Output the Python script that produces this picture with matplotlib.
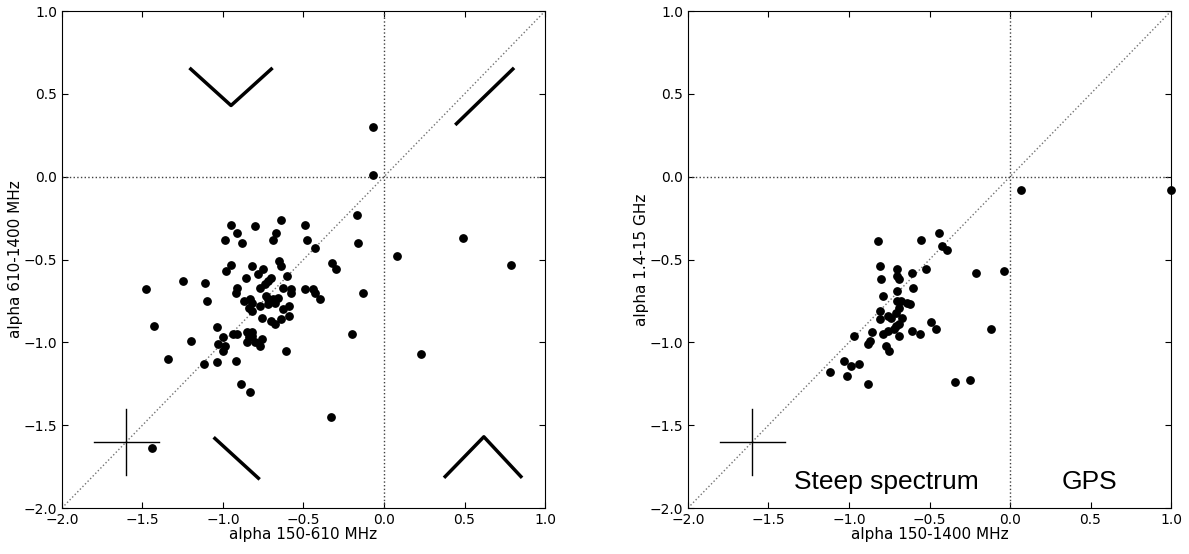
import matplotlib
matplotlib.use("Agg")
import matplotlib.pyplot as plt

# spectral indices, left panel: alpha 150-610 MHz vs alpha 610-1400 MHz
a150_610 = [-1.48, -1.43, -1.34, -1.25, -1.20, -1.11, -1.10, -1.12, -1.04, -1.00,
            -1.03, -0.99, -1.00, -1.04, -0.92, -0.89, -0.83, -0.95, -0.91, -0.99,
            -0.88, -0.80, -0.64, -0.49, -0.67, -0.69, -0.48, -0.43, -0.17, -0.16,
            -0.95, -0.98, -0.82, -0.75, -0.65, -0.64, -0.78, -0.86, -0.70, -0.72,
            -0.60, -0.74, -0.91, -0.92, -0.77, -0.63, -0.58, -0.58, -0.49, -0.44,
            -0.43, -0.40, -0.32, -0.30, -0.87, -0.83, -0.82, -0.84, -0.82, -0.77,
            -0.73, -0.72, -0.71, -0.69, -0.66, -0.72, -0.68, -0.59, -0.63, -0.76,
            -0.70, -0.68, -0.64, -0.59, -0.94, -0.91, -0.85, -0.82, -0.84, -0.82,
            -0.85, -0.80, -0.77, -0.76, -0.61, -0.20, -0.33, -0.13, -0.07, -0.07,
            0.08, 0.49, 0.79, 0.23, -1.44]
a610_1400 = [-0.68, -0.90, -1.10, -0.63, -0.99, -0.64, -0.75, -1.13, -0.91, -0.97,
             -1.01, -1.02, -1.05, -1.12, -1.11, -1.25, -1.30, -0.29, -0.34, -0.38,
             -0.40, -0.30, -0.26, -0.29, -0.34, -0.38, -0.38, -0.43, -0.23, -0.40,
             -0.53, -0.57, -0.54, -0.56, -0.51, -0.54, -0.59, -0.61, -0.61, -0.63,
             -0.60, -0.65, -0.67, -0.70, -0.67, -0.67, -0.68, -0.70, -0.68, -0.68,
             -0.70, -0.74, -0.52, -0.56, -0.75, -0.74, -0.76, -0.79, -0.81, -0.78,
             -0.72, -0.74, -0.75, -0.74, -0.73, -0.77, -0.76, -0.78, -0.80, -0.85,
             -0.87, -0.89, -0.86, -0.84, -0.95, -0.95, -0.94, -0.94, -0.97, -0.96,
             -1.00, -1.00, -1.02, -0.98, -1.05, -0.95, -1.45, -0.70, 0.01, 0.30,
             -0.48, -0.37, -0.53, -1.07, -1.64]

# right panel: alpha 150-1400 MHz vs alpha 1.4-15 GHz
a150_1400 = [-0.82, -0.55, -0.44, -0.42, -0.39, -0.81, -0.70, -0.70, -0.69, -0.61,
             -0.52, -0.80, -0.21, -0.04, -0.60, -0.70, -0.79, -0.70, -0.68, -0.64,
             -0.62, -0.69, -0.71, -0.81, -0.76, -0.74, -0.67, -0.81, -0.69, -0.71,
             -0.72, -0.76, -0.79, -0.69, -0.61, -0.56, -0.49, -0.46, -0.12, -0.86,
             -0.97, -0.87, -0.88, -0.77, -0.75, -1.03, -0.99, -0.94, -1.12, -1.01,
             -0.88, -0.34, -0.25, 0.07, 1.00]
a14_15 = [-0.39, -0.38, -0.34, -0.42, -0.44, -0.54, -0.56, -0.60, -0.62, -0.58,
          -0.56, -0.62, -0.58, -0.57, -0.67, -0.69, -0.72, -0.75, -0.75, -0.76,
          -0.77, -0.79, -0.82, -0.81, -0.84, -0.85, -0.85, -0.86, -0.89, -0.90,
          -0.92, -0.93, -0.95, -0.96, -0.93, -0.95, -0.88, -0.92, -0.92, -0.94,
          -0.96, -0.99, -1.01, -1.02, -1.05, -1.11, -1.14, -1.13, -1.18, -1.20,
          -1.25, -1.24, -1.23, -0.08, -0.08]

# schematic spectrum shapes drawn in the left panel
shape_v = ([-1.20, -0.95, -0.70], [0.65, 0.43, 0.65])
shape_rise = ([0.45, 0.80], [0.32, 0.65])
shape_fall = ([-1.05, -0.78], [-1.58, -1.82])
shape_peak = ([0.38, 0.62, 0.85], [-1.81, -1.57, -1.81])


def setup(ax, xlabel, ylabel):
    ax.set_xlim(-2, 1)
    ax.set_ylim(-2, 1)
    ax.set_xticks([-2.0, -1.5, -1.0, -0.5, 0.0, 0.5, 1.0])
    ax.set_yticks([-2.0, -1.5, -1.0, -0.5, 0.0, 0.5, 1.0])
    ax.tick_params(direction='in', top=True, right=True, labelsize=10, length=4)
    ax.set_xlabel(xlabel, fontsize=11, labelpad=0)
    ax.set_ylabel(ylabel, fontsize=11, labelpad=0)
    ax.plot([-2, 1], [-2, 1], ':', color='0.45', lw=1)
    ax.axvline(0, ls=':', color='0.25', lw=1)
    ax.axhline(0, ls=':', color='0.25', lw=1)
    # error cross
    ax.plot([-1.8, -1.4], [-1.6, -1.6], color='k', lw=1)
    ax.plot([-1.6, -1.6], [-1.8, -1.4], color='k', lw=1)


fig = plt.figure(figsize=(11.89, 5.54), dpi=100)
ax1 = fig.add_axes([0.0521, 0.083, 0.4063, 0.897])
ax2 = fig.add_axes([0.5786, 0.083, 0.4063, 0.897])

setup(ax1, 'alpha 150-610 MHz', 'alpha 610-1400 MHz')
ax1.scatter(a150_610, a610_1400, s=28, color='k', zorder=3)
for xs, ys in (shape_v, shape_rise, shape_fall, shape_peak):
    ax1.plot(xs, ys, color='k', lw=2.5)

setup(ax2, 'alpha 150-1400 MHz', 'alpha 1.4-15 GHz')
ax2.scatter(a150_1400, a14_15, s=28, color='k', zorder=3, clip_on=False)
ax2.text(-1.34, -1.885, 'Steep spectrum', fontsize=19, family='Liberation Sans')
ax2.text(0.32, -1.885, 'GPS', fontsize=19, family='Liberation Sans')

fig.savefig('out.png', dpi=100)
